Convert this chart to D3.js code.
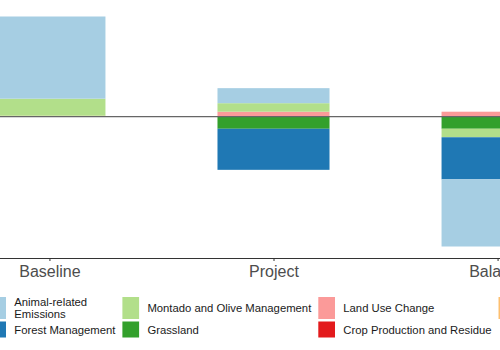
<!DOCTYPE html>
<html lang="en">
<head>
  <meta charset="UTF-8">
  <style>
body {
    margin: 0;
    background: #fff;
    font-family: Arial, "Liberation Sans", Helvetica, sans-serif;
}
.tick text {
    fill: #4d4d4d;
    font-size: 16px;
}
.legend-label {
    fill: #1a1a1a;
    font-size: 11.3px;
}
  </style>
  <title>Emissions balance</title>
</head>
<body>
<div id="wrapper"></div>
<script src="https://cdnjs.cloudflare.com/ajax/libs/d3/7.8.5/d3.min.js"></script>
<script>
// DATA
const categories = ["Baseline", "Project", "Balance"]
const sources = [
  "Animal-related\nEmissions",
  "Forest Management",
  "Montado and Olive Management",
  "Grassland",
  "Land Use Change",
  "Crop Production and Residue",
  "Energy Use"
]
const baselineValues = [32.8, 0, 6.8, 0, 0, 0, 0.4]
const projectValues  = [6.0, -16.4, 3.4, -4.8, 2.0, 0, 0]
const balanceValues  = [-26.8, -16.8, -3.4, -4.8, 2.0, 0, 0]
const colors = ["#a6cee3", "#1f78b4", "#b2df8a", "#33a02c", "#fb9a99", "#e31a1c", "#fdbf6f"]

function drawChart() {
  const dimensions = {
    width: 500,
    height: 350,
    plotTop: 5,
    plotBottom: 258,
    plotLeft: -85,
    plotRight: 632,
  }

  const valueSets = [baselineValues, projectValues, balanceValues]
  const rows = categories.map((c, i) => {
    const row = {category: c}
    sources.forEach((s, j) => row[s] = valueSets[i][j])
    return row
  })

  // first source ends up farthest from zero (like ggplot)
  const stack = d3.stack()
    .keys(sources.slice().reverse())
    .offset(d3.stackOffsetDiverging)
  const series = stack(rows)

  const yMax = d3.max(series, s => d3.max(s, d => d[1]))
  const yMin = d3.min(series, s => d3.min(s, d => d[0]))
  const pad = (yMax - yMin) * 0.05

  const yScale = d3.scaleLinear()
    .domain([yMin - pad, yMax + pad])
    .range([dimensions.plotBottom, dimensions.plotTop])

  const xScale = d3.scalePoint()
    .domain(categories)
    .range([dimensions.plotLeft, dimensions.plotRight])
    .padding(0.6)
  const barWidth = xScale.step() * 0.5

  const colorScale = d3.scaleOrdinal().domain(sources).range(colors)

  const svg = d3.select("#wrapper")
    .append("svg")
    .attr("width", dimensions.width)
    .attr("height", dimensions.height)

  svg.append("rect")
    .attr("width", dimensions.width)
    .attr("height", dimensions.height)
    .attr("fill", "#fff")

  // bars
  svg.append("g")
    .selectAll("g")
    .data(series)
    .join("g")
      .attr("fill", d => colorScale(d.key))
    .selectAll("rect")
    .data(d => d)
    .join("rect")
      .attr("x", d => xScale(d.data.category) - barWidth / 2)
      .attr("width", barWidth)
      .attr("y", d => yScale(Math.max(d[0], d[1])))
      .attr("height", d => Math.abs(yScale(d[0]) - yScale(d[1])))

  // zero line
  svg.append("line")
    .attr("x1", 0)
    .attr("x2", dimensions.width)
    .attr("y1", yScale(0))
    .attr("y2", yScale(0))
    .attr("stroke", "#666")
    .attr("stroke-width", 1.2)

  // x axis
  const xAxis = svg.append("g")
    .attr("transform", `translate(0,${dimensions.plotBottom})`)
    .call(d3.axisBottom(xScale).tickSize(3).tickSizeOuter(0).tickPadding(4.6))
  xAxis.select(".domain").attr("stroke", "#333")
  xAxis.selectAll(".tick line").attr("stroke", "#333")
  xAxis.selectAll(".tick text")
    .attr("font-family", null)
    .attr("font-size", null)

  // legend: 2 rows, filled by column
  const legend = svg.append("g")
  const rowTop = [297, 321.5]
  const rowHeight = [22, 16]
  const keyWidth = 16.7
  let colX = -10.7
  for (let c = 0; c < Math.ceil(sources.length / 2); c++) {
    let colWidth = 0
    for (let r = 0; r < 2; r++) {
      const idx = c * 2 + r
      if (idx >= sources.length) continue
      const s = sources[idx]
      legend.append("rect")
        .attr("x", colX)
        .attr("y", rowTop[r])
        .attr("width", keyWidth)
        .attr("height", rowHeight[r])
        .attr("fill", colorScale(s))
      const lines = s.split("\n")
      const midY = rowTop[r] + rowHeight[r] / 2
      const text = legend.append("text")
        .attr("class", "legend-label")
        .attr("x", colX + 25)
        .attr("y", midY - (lines.length - 1) * 12.3 / 2)
        .attr("dominant-baseline", "central")
      lines.forEach((l, k) => {
        text.append("tspan")
          .attr("x", colX + 25)
          .attr("dy", k === 0 ? 0 : 12.3)
          .text(l)
      })
      colWidth = Math.max(colWidth, text.node().getComputedTextLength
        ? d3.max(text.selectAll("tspan").nodes(), n => n.getComputedTextLength())
        : 0)
    }
    colX += 25 + colWidth + 7
  }
}
drawChart()
</script>
</body>
</html>
